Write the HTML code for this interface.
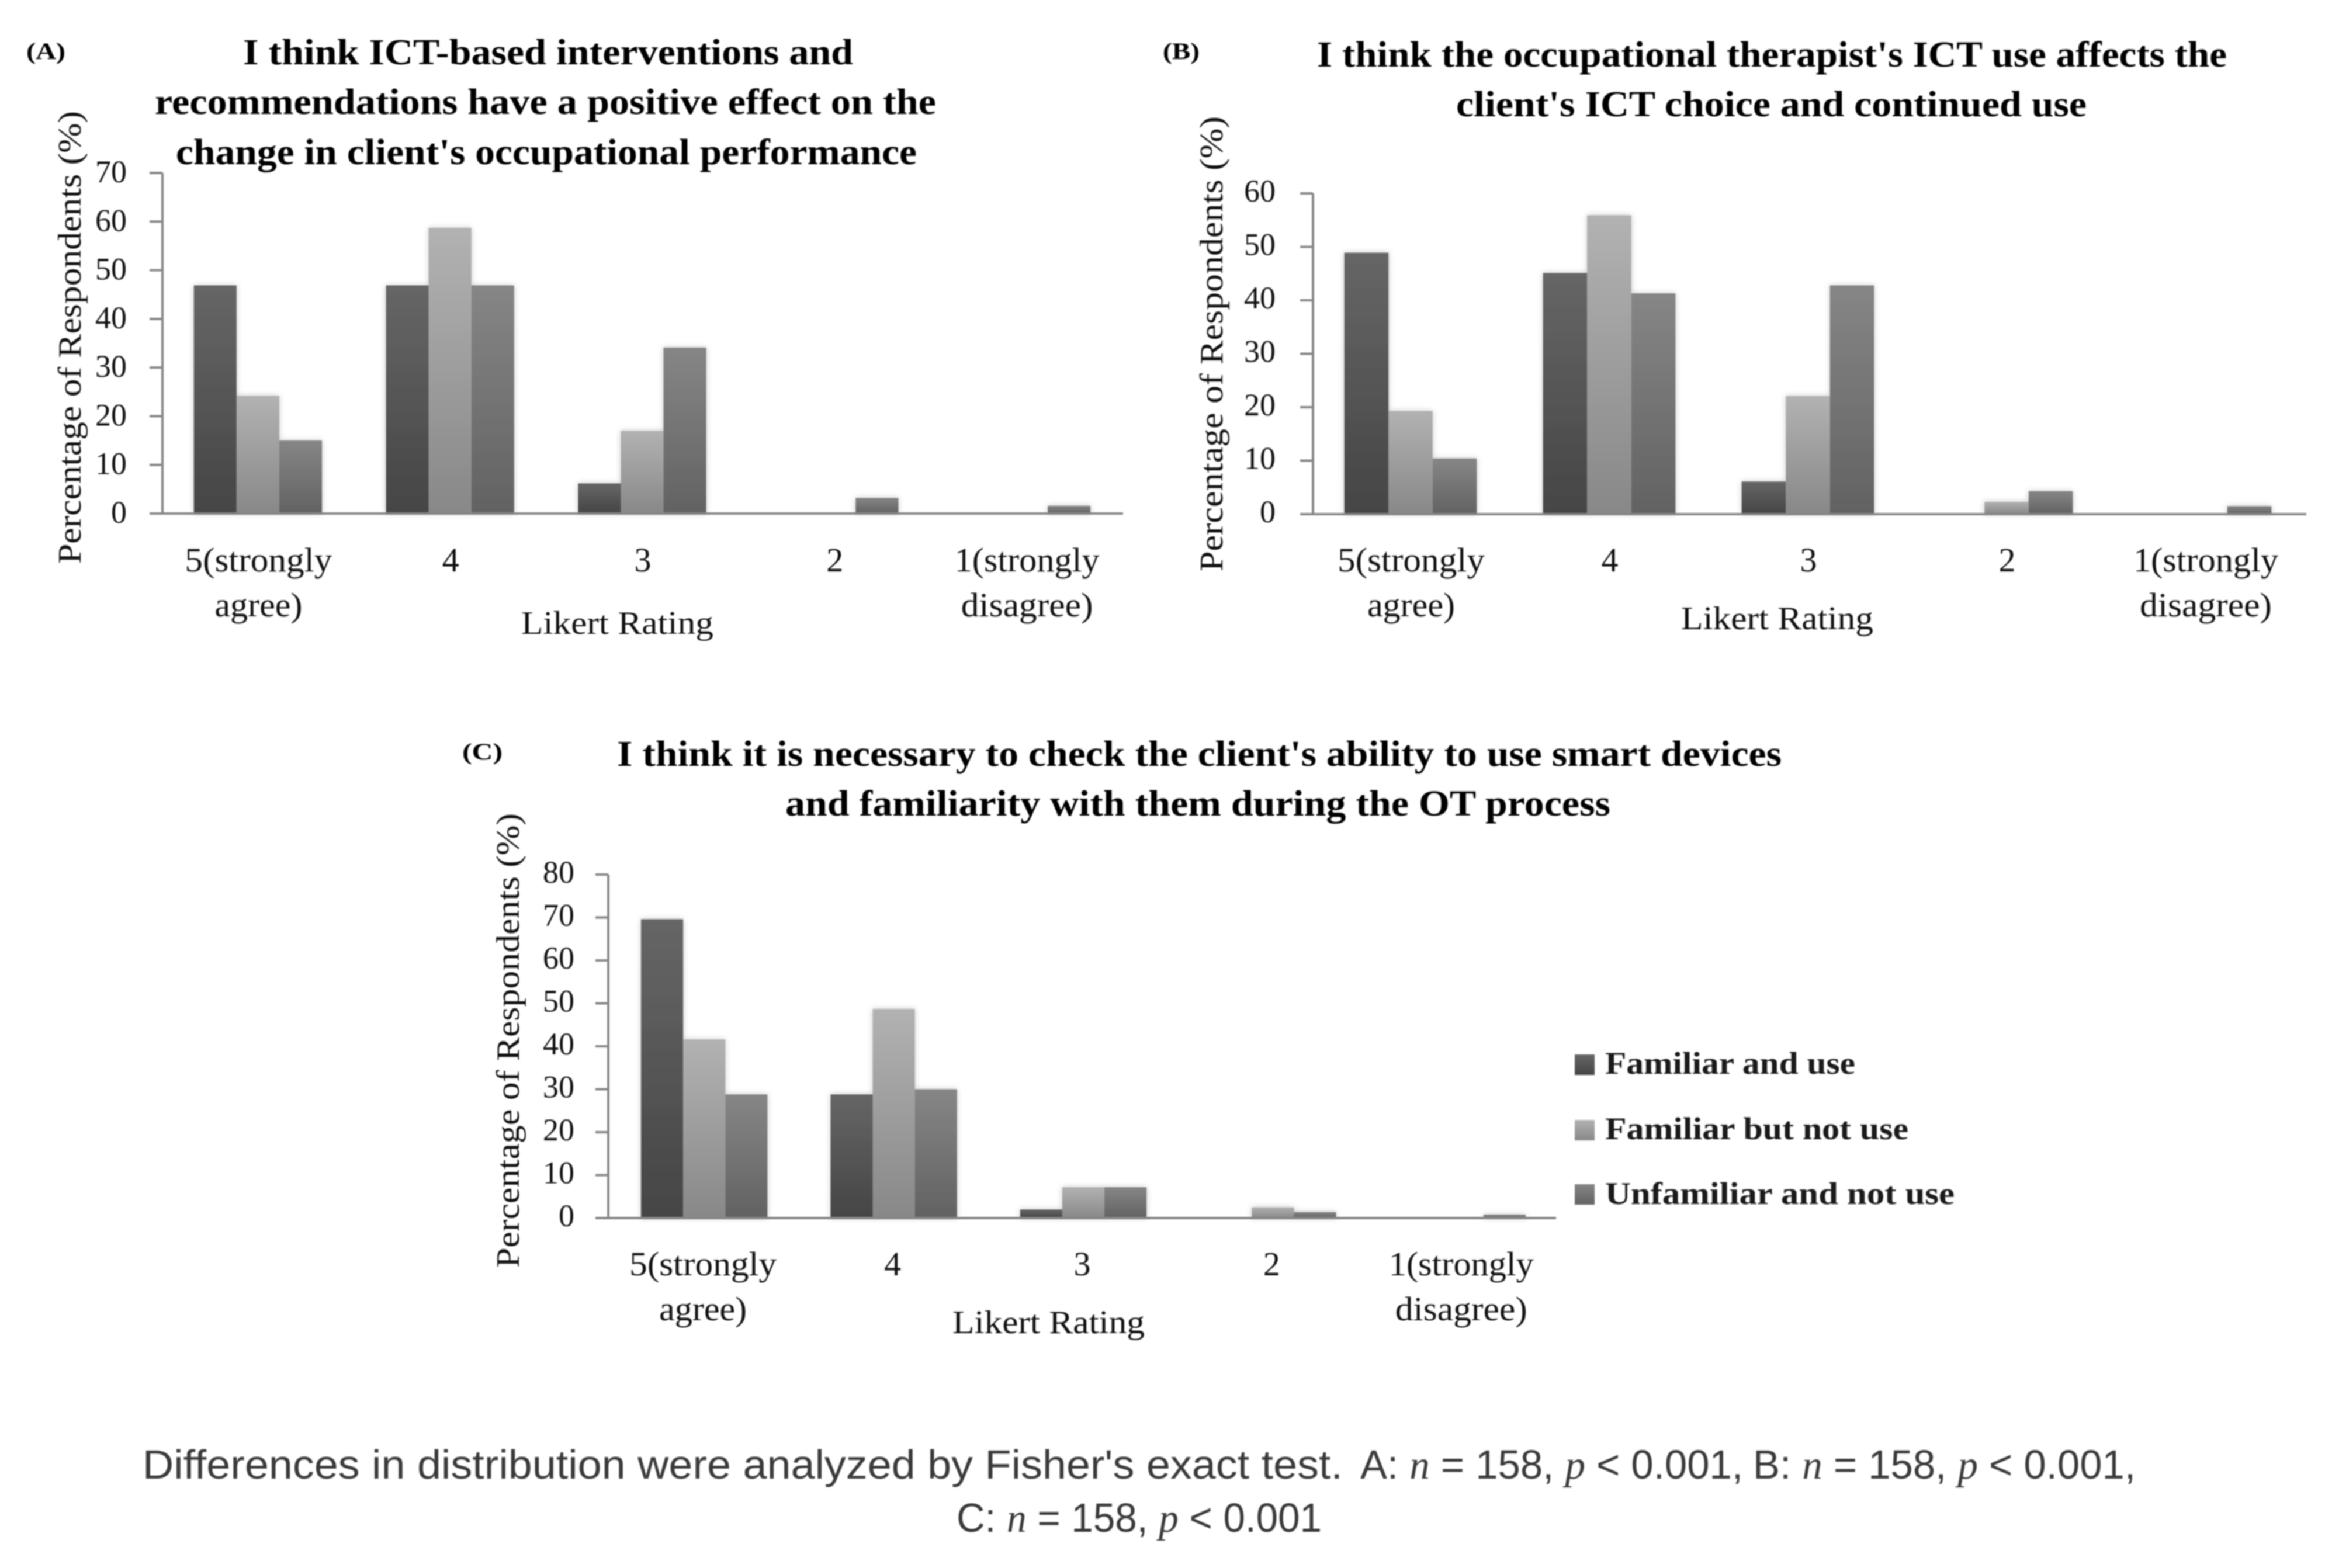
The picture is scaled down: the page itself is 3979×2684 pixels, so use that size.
<!DOCTYPE html>
<html lang="en">
<head>
<meta charset="utf-8">
<title>Likert rating charts</title>
<style>
html,body{margin:0;padding:0;background:#fff;width:3979px;height:2684px;overflow:hidden}
svg{display:block;filter:blur(1.1px)}
text{font-family:"Liberation Serif",serif;fill:#111}
.t{font-weight:bold;font-size:62px;fill:#000}
.p{font-weight:bold;font-size:40px;fill:#000}
.lg{font-weight:bold;font-size:54px;fill:#1a1a1a}
.yt{font-size:56px}
.foot{font-family:"Liberation Sans",sans-serif;font-size:70px;fill:#3a3a3a}
.foot tspan{font-family:"Liberation Serif",serif;font-style:italic}
</style>
</head>
<body>
<svg id="fig" xmlns="http://www.w3.org/2000/svg" width="3979" height="2684" viewBox="0 0 3979 2684">
<defs>
<linearGradient id="g0" x1="0" y1="0" x2="0" y2="1"><stop offset="0" stop-color="#666"/><stop offset="1" stop-color="#454545"/></linearGradient>
<linearGradient id="g1" x1="0" y1="0" x2="0" y2="1"><stop offset="0" stop-color="#b2b2b2"/><stop offset="1" stop-color="#888"/></linearGradient>
<linearGradient id="g2" x1="0" y1="0" x2="0" y2="1"><stop offset="0" stop-color="#868686"/><stop offset="1" stop-color="#626262"/></linearGradient>
<filter id="sh" x="-10%" y="-10%" width="120%" height="120%"><feDropShadow dx="0" dy="0" stdDeviation="5" flood-color="#000" flood-opacity="0.22"/></filter>
</defs>
<rect width="3979" height="2684" fill="#fff"/>

<text class="p" x="45" y="101" textLength="67" lengthAdjust="spacingAndGlyphs">(A)</text>
<text class="t" x="416" y="110" textLength="1044" lengthAdjust="spacingAndGlyphs">I think ICT-based interventions and</text>
<text class="t" x="265" y="195" textLength="1337" lengthAdjust="spacingAndGlyphs">recommendations have a positive effect on the</text>
<text class="t" x="301" y="281" textLength="1268" lengthAdjust="spacingAndGlyphs">change in client's occupational performance</text>
<text class="yt" transform="translate(138,965) rotate(-90)" textLength="775" lengthAdjust="spacingAndGlyphs">Percentage of Respondents (%)</text>
<text class="yt" x="892" y="1085" textLength="329" lengthAdjust="spacingAndGlyphs">Likert Rating</text>

<text class="p" x="1990" y="101" textLength="63" lengthAdjust="spacingAndGlyphs">(B)</text>
<text class="t" x="2254" y="114" textLength="1557" lengthAdjust="spacingAndGlyphs">I think the occupational therapist's ICT use affects the</text>
<text class="t" x="2492" y="199" textLength="1079" lengthAdjust="spacingAndGlyphs">client's ICT choice and continued use</text>
<text class="yt" transform="translate(2092,978) rotate(-90)" textLength="779" lengthAdjust="spacingAndGlyphs">Percentage of Respondents (%)</text>
<text class="yt" x="2877" y="1077" textLength="329" lengthAdjust="spacingAndGlyphs">Likert Rating</text>

<text class="p" x="791" y="1300" textLength="69" lengthAdjust="spacingAndGlyphs">(C)</text>
<text class="t" x="1056" y="1311" textLength="1993" lengthAdjust="spacingAndGlyphs">I think it is necessary to check the client's ability to use smart devices</text>
<text class="t" x="1344" y="1396" textLength="1412" lengthAdjust="spacingAndGlyphs">and familiarity with them during the OT process</text>
<text class="yt" transform="translate(888,2170) rotate(-90)" textLength="778" lengthAdjust="spacingAndGlyphs">Percentage of Respondents (%)</text>
<text class="yt" x="1630" y="2282" textLength="329" lengthAdjust="spacingAndGlyphs">Likert Rating</text>

<rect x="2695" y="1805" width="34" height="35" fill="url(#g0)"/>
<text class="lg" x="2747" y="1838" textLength="428" lengthAdjust="spacingAndGlyphs">Familiar and use</text>
<rect x="2695" y="1917" width="34" height="35" fill="url(#g1)"/>
<text class="lg" x="2747" y="1950" textLength="519" lengthAdjust="spacingAndGlyphs">Familiar but not use</text>
<rect x="2695" y="2027" width="34" height="35" fill="url(#g2)"/>
<text class="lg" x="2747" y="2061" textLength="598" lengthAdjust="spacingAndGlyphs">Unfamiliar and not use</text>

<text class="foot" x="244" y="2531" textLength="2054" lengthAdjust="spacingAndGlyphs">Differences in distribution were analyzed by Fisher's exact test.</text>
<text class="foot" x="2328" y="2531" textLength="655" lengthAdjust="spacingAndGlyphs">A: <tspan>n</tspan> = 158, <tspan>p</tspan> &lt; 0.001,</text>
<text class="foot" x="3000" y="2531" textLength="655" lengthAdjust="spacingAndGlyphs">B: <tspan>n</tspan> = 158, <tspan>p</tspan> &lt; 0.001,</text>
<text class="foot" x="1637" y="2622" textLength="625" lengthAdjust="spacingAndGlyphs">C: <tspan>n</tspan> = 158, <tspan>p</tspan> &lt; 0.001</text>
</svg>
<script>
// ---- chart data ----
const categories = [["5(strongly", "agree)"], ["4"], ["3"], ["2"], ["1(strongly", "disagree)"]];
const seriesNames = ["Familiar and use", "Familiar but not use", "Unfamiliar and not use"];

const yTicksA = [0, 10, 20, 30, 40, 50, 60, 70];
const familiarUseA = [46.9, 46.9, 6.2, 0, 0];
const familiarNotUseA = [24.2, 58.7, 17, 0, 0];
const unfamiliarNotUseA = [15, 46.9, 34.1, 3.2, 1.6];

const yTicksB = [0, 10, 20, 30, 40, 50, 60];
const familiarUseB = [48.9, 45.1, 6.1, 0, 0];
const familiarNotUseB = [19.3, 55.9, 22.1, 2.3, 0];
const unfamiliarNotUseB = [10.4, 41.3, 42.8, 4.3, 1.5];

const yTicksC = [0, 10, 20, 30, 40, 50, 60, 70, 80];
const familiarUseC = [69.6, 28.8, 2, 0, 0];
const familiarNotUseC = [41.6, 48.7, 7.2, 2.5, 0];
const unfamiliarNotUseC = [28.8, 30, 7.2, 1.4, 0.8];

// ---- drawing ----
const labelWidths = {"5(strongly": 252, "agree)": 150, "1(strongly": 248, "disagree)": 226};
const SVGNS = "http://www.w3.org/2000/svg";
const fig = document.getElementById("fig");

function slug(s) { return String(s).toLowerCase().replace(/[^a-z0-9]+/g, "-").replace(/^-|-$/g, ""); }

function drawChart(id, frame, ticks, series) {
  const maxV = ticks[ticks.length - 1];
  const y = v => frame.y0 - v / maxV * (frame.y0 - frame.yTop);
  const band = (frame.xEnd - frame.x0) / categories.length;
  const xc = i => frame.x0 + band * (i + 0.5);
  const barW = band / 4.5;

  const bars = document.createElementNS(SVGNS, "g");
  bars.setAttribute("filter", "url(#sh)");
  
  
  fig.appendChild(bars);

  series.forEach((values, s) => {
    values.forEach((v, i) => {
      const r = document.createElementNS(SVGNS, "rect");
      r.setAttribute("x", xc(i) + frame.barShift + (s - 1.5) * barW);
      r.setAttribute("y", y(v));
      r.setAttribute("width", barW);
      r.setAttribute("height", Math.max(0, frame.y0 - y(v)));
      r.setAttribute("fill", "url(#g" + s + ")");
      
      
      bars.appendChild(r);
    });
  });

  const axis = document.createElementNS(SVGNS, "path");
  let d = "M" + frame.x0 + " " + frame.yTop + "V" + frame.y0 + "M" + (frame.x0 - 22) + " " + frame.y0 + "H" + frame.xEnd;
  ticks.forEach(t => { d += "M" + (frame.x0 - 22) + " " + y(t) + "H" + frame.x0; });
  axis.setAttribute("d", d);
  axis.setAttribute("stroke", "#868686");
  axis.setAttribute("stroke-width", "4");
  axis.setAttribute("fill", "none");
  
  
  fig.appendChild(axis);

  ticks.forEach(t => {
    const tx = document.createElementNS(SVGNS, "text");
    tx.setAttribute("x", frame.tickRight);
    tx.setAttribute("y", y(t) + 18 + frame.tickNudge);
    tx.setAttribute("text-anchor", "end");
    tx.setAttribute("font-size", "54");
    tx.textContent = t;
    
    
    fig.appendChild(tx);
  });

  categories.forEach((lines, i) => {
    lines.forEach((line, k) => {
      const tx = document.createElementNS(SVGNS, "text");
      tx.setAttribute("x", xc(i) + frame.labelShift);
      tx.setAttribute("y", frame.labelY + k * 77);
      tx.setAttribute("text-anchor", "middle");
      tx.setAttribute("font-size", "58");
      if (labelWidths[line]) {
        tx.setAttribute("textLength", labelWidths[line]);
        tx.setAttribute("lengthAdjust", "spacingAndGlyphs");
      }
      tx.textContent = line;
      
      
      fig.appendChild(tx);
    });
  });
}

drawChart("a", {x0: 278, xEnd: 1922, y0: 879, yTop: 296, tickRight: 217, tickNudge: -2, labelY: 978, labelShift: 0, barShift: -1},
  yTicksA, [familiarUseA, familiarNotUseA, unfamiliarNotUseA]);
drawChart("b", {x0: 2247, xEnd: 3947, y0: 880, yTop: 331, tickRight: 2183, tickNudge: -4, labelY: 978, labelShift: -2, barShift: -3},
  yTicksB, [familiarUseB, familiarNotUseB, unfamiliarNotUseB]);
drawChart("c", {x0: 1041, xEnd: 2663, y0: 2085, yTop: 1497, tickRight: 983, tickNudge: -4, labelY: 2183, labelShift: 0, barShift: 2},
  yTicksC, [familiarUseC, familiarNotUseC, unfamiliarNotUseC]);
</script>
</body>
</html>
